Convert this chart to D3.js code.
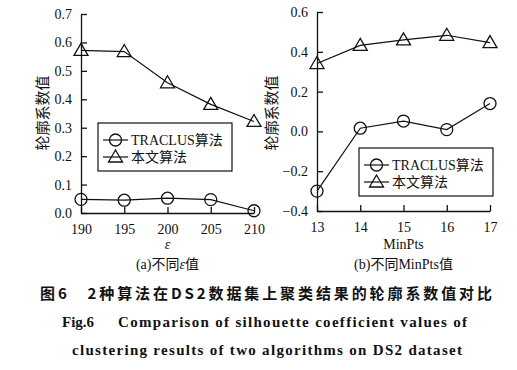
<!DOCTYPE html>
<html>
<head>
<meta charset="utf-8">
<script src="https://cdn.jsdelivr.net/npm/d3@7"></script>
<style>
  body { margin: 0; background: #fff; }
  text { font-family: 'Liberation Serif', 'Times New Roman', 'Noto Sans CJK SC', serif; fill: #111; }
</style>
</head>
<body>
<script>
// data
var epsValues = [190, 195, 200, 205, 210];
var epsTraclus = [0.048, 0.045, 0.052, 0.047, 0.008];
var epsOurs = [0.572, 0.568, 0.458, 0.382, 0.322];

var minPtsValues = [13, 14, 15, 16, 17];
var minPtsTraclus = [-0.30, 0.016, 0.052, 0.009, 0.14];
var minPtsOurs = [0.341, 0.432, 0.46, 0.483, 0.446];

var seriesNames = ["TRACLUS算法", "本文算法"];
var epsTicksY = [0, 0.1, 0.2, 0.3, 0.4, 0.5, 0.6, 0.7];
var minPtsTicksY = [-0.4, -0.2, 0, 0.2, 0.4, 0.6];

var serif = "'Liberation Serif', 'Times New Roman', 'Noto Sans CJK SC', serif";
var w = 517, h = 370;
var svg = d3.select("body").append("svg").attr("width", w).attr("height", h);
svg.append("rect").attr("width", w).attr("height", h).attr("fill", "#fff");

function panel(opt) {
    var x = d3.scaleLinear().domain(opt.xDomain).range([opt.left, opt.right]);
    var y = d3.scaleLinear().domain(opt.yDomain).range([opt.bottom, opt.top]);
    var g = svg.append("g");

    // axes with inward ticks
    var yAxis = d3.axisLeft(y).tickValues(opt.yTicks).tickSizeInner(-6).tickSizeOuter(0)
        .tickPadding(9).tickFormat(function(d) { return d3.format(".1f")(d).replace("-", "\u2212"); });
    var gy = g.append("g").attr("transform", "translate(" + opt.left + ",0)").call(yAxis);
    var xAxis = d3.axisBottom(x).tickValues(opt.xValues).tickSizeInner(-6).tickSizeOuter(0)
        .tickPadding(11).tickFormat(d3.format("d"));
    var gx = g.append("g").attr("transform", "translate(0," + opt.bottom + ")").call(xAxis);
    [gx, gy].forEach(function(a) {
        a.attr("font-family", serif).attr("font-size", 14);
        a.selectAll("path, line").attr("stroke", "#111").attr("stroke-width", 1.3);
        a.selectAll("text").attr("fill", "#111");
    });

    var line = d3.line().x(function(d, i) { return x(opt.xValues[i]); }).y(function(d) { return y(d); });
    [opt.traclus, opt.ours].forEach(function(s) {
        g.append("path").attr("d", line(s)).attr("fill", "none").attr("stroke", "#111").attr("stroke-width", 1.2);
    });
    g.selectAll(".c").data(opt.traclus).enter().append("circle")
        .attr("cx", function(d, i) { return x(opt.xValues[i]); })
        .attr("cy", function(d) { return y(d); })
        .attr("r", 6).attr("fill", "none").attr("stroke", "#111").attr("stroke-width", 1.3);
    g.selectAll(".t").data(opt.ours).enter().append("path")
        .attr("d", "M0,-7L7,5L-7,5Z")
        .attr("transform", function(d, i) { return "translate(" + x(opt.xValues[i]) + "," + y(d) + ")"; })
        .attr("fill", "none").attr("stroke", "#111").attr("stroke-width", 1.3);

    // y title
    g.append("text").attr("transform", "translate(" + opt.titleX + ",113) rotate(-90)")
        .attr("text-anchor", "middle").attr("dominant-baseline", "middle")
        .style("font-family", "'Noto Sans CJK SC'").style("font-size", "15px").text("轮廓系数值");

    // x title and subtitle
    var cx = (opt.left + opt.right) / 2;
    g.append("text").attr("x", cx).attr("y", 249).attr("text-anchor", "middle")
        .style("font-size", "14px").style("font-style", opt.xItalic ? "italic" : "normal").text(opt.xTitle);
    var sub = g.append("text").attr("x", cx).attr("y", 269).attr("text-anchor", "middle").style("font-size", "14px");
    opt.sub.forEach(function(p) {
        sub.append("tspan").style("font-style", p[1] ? "italic" : "normal").text(p[0]);
    });

    // legend
    var lg = g.append("g").attr("transform", "translate(" + opt.legX + "," + opt.legY + ")");
    lg.append("rect").attr("width", 134).attr("height", 48).attr("fill", "#fff")
        .attr("stroke", "#111").attr("stroke-width", 1.2);
    seriesNames.forEach(function(name, i) {
        var yy = 17 + i * 17;
        lg.append("line").attr("x1", 5).attr("x2", 30).attr("y1", yy).attr("y2", yy)
            .attr("stroke", "#111").attr("stroke-width", 1.2);
        if (i === 0) {
            lg.append("circle").attr("cx", 17.5).attr("cy", yy).attr("r", 6)
                .attr("fill", "none").attr("stroke", "#111").attr("stroke-width", 1.3);
        } else {
            lg.append("path").attr("d", "M0,-7L7,5L-7,5Z").attr("transform", "translate(17.5," + yy + ")")
                .attr("fill", "none").attr("stroke", "#111").attr("stroke-width", 1.3);
        }
        lg.append("text").attr("x", 33).attr("y", yy + 5).style("font-size", "14px").text(name);
    });
}

panel({
    xValues: epsValues, xDomain: [190, 210], yDomain: [0, 0.7], yTicks: epsTicksY,
    traclus: epsTraclus, ours: epsOurs,
    left: 81, right: 254, top: 14, bottom: 213, titleX: 44,
    xTitle: "ε", xItalic: true, sub: [["(a)不同", false], ["ε", true], ["值", false]],
    legX: 98, legY: 123
});
panel({
    xValues: minPtsValues, xDomain: [13, 17], yDomain: [-0.4, 0.6], yTicks: minPtsTicksY,
    traclus: minPtsTraclus, ours: minPtsOurs,
    left: 317, right: 490, top: 12, bottom: 211, titleX: 273,
    xTitle: "MinPts", xItalic: false, sub: [["(b)不同MinPts值", false]],
    legX: 359, legY: 148
});

// caption
svg.append("text").attr("x", 40).attr("y", 299).attr("textLength", 452).attr("lengthAdjust", "spacing")
    .style("font-family", "'Noto Sans CJK SC'").style("font-weight", "bold").style("font-size", "15px")
    .text("图6　2种算法在DS2数据集上聚类结果的轮廓系数值对比");
var fig = svg.append("text").attr("y", 327).style("font-weight", "bold").style("font-size", "15px");
fig.append("tspan").attr("x", 62).text("Fig.6");
fig.append("tspan").attr("x", 118).attr("textLength", 349).attr("lengthAdjust", "spacing")
    .text("Comparison of silhouette coefficient values of");
svg.append("text").attr("x", 72).attr("y", 355).attr("textLength", 390).attr("lengthAdjust", "spacing")
    .style("font-weight", "bold").style("font-size", "15px")
    .text("clustering results of two algorithms on DS2 dataset");
</script>
</body>
</html>
